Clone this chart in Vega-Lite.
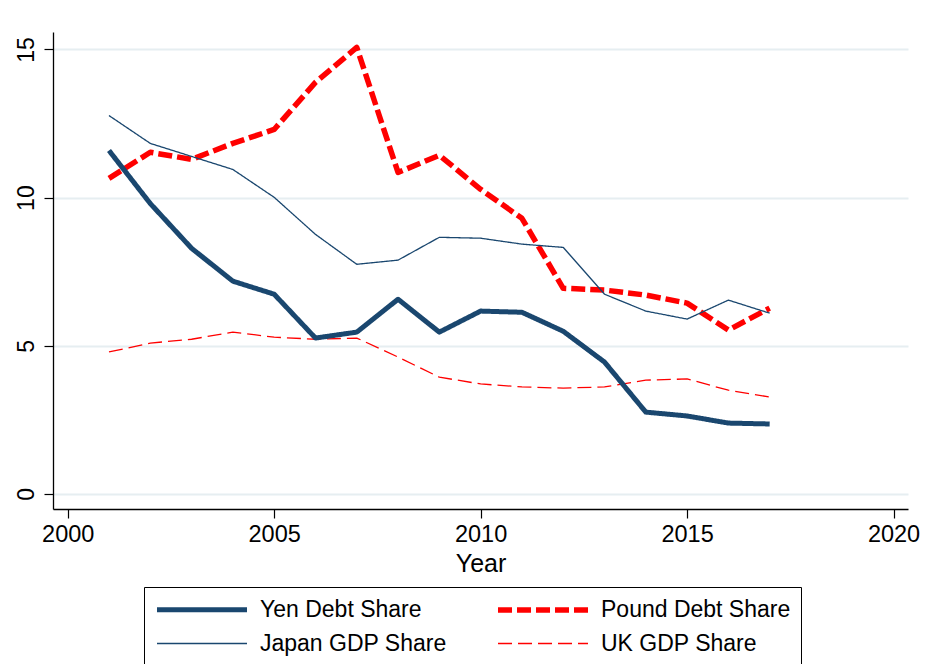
{
  "$schema": "https://vega.github.io/schema/vega-lite/v6.json",
  "autosize": {"type": "none"},
  "padding": {"left": 53, "top": 32, "right": 17, "bottom": 155},
  "width": 855,
  "height": 477,
  "background": "white",
  "config": {
    "view": {"stroke": null},
    "font": "Liberation Sans",
    "legend": {
      "title": null,
      "orient": "none",
      "legendX": 91,
      "legendY": 555,
      "direction": "horizontal",
      "columns": 2,
      "columnPadding": 40,
      "rowPadding": 10,
      "padding": 10,
      "strokeColor": "black",
      "fillColor": "white",
      "symbolType": "M-1,0H8",
      "symbolSize": 400,
      "labelFontSize": 23,
      "labelFont": "Liberation Sans",
      "labelColor": "black",
      "labelOffset": 80,
      "labelLimit": 400
    }
  },
  "data": {
    "values": [
      {"year": 2001, "series": "Pound Debt Share", "value": 10.65},
      {"year": 2002, "series": "Pound Debt Share", "value": 11.53},
      {"year": 2003, "series": "Pound Debt Share", "value": 11.29},
      {"year": 2004, "series": "Pound Debt Share", "value": 11.83},
      {"year": 2005, "series": "Pound Debt Share", "value": 12.3},
      {"year": 2006, "series": "Pound Debt Share", "value": 13.89},
      {"year": 2007, "series": "Pound Debt Share", "value": 15.07},
      {"year": 2008, "series": "Pound Debt Share", "value": 10.85},
      {"year": 2009, "series": "Pound Debt Share", "value": 11.43},
      {"year": 2010, "series": "Pound Debt Share", "value": 10.28},
      {"year": 2011, "series": "Pound Debt Share", "value": 9.3},
      {"year": 2012, "series": "Pound Debt Share", "value": 6.94},
      {"year": 2013, "series": "Pound Debt Share", "value": 6.88},
      {"year": 2014, "series": "Pound Debt Share", "value": 6.71},
      {"year": 2015, "series": "Pound Debt Share", "value": 6.44},
      {"year": 2016, "series": "Pound Debt Share", "value": 5.53},
      {"year": 2017, "series": "Pound Debt Share", "value": 6.27},
      {"year": 2001, "series": "UK GDP Share", "value": 4.79},
      {"year": 2002, "series": "UK GDP Share", "value": 5.09},
      {"year": 2003, "series": "UK GDP Share", "value": 5.22},
      {"year": 2004, "series": "UK GDP Share", "value": 5.46},
      {"year": 2005, "series": "UK GDP Share", "value": 5.29},
      {"year": 2006, "series": "UK GDP Share", "value": 5.22},
      {"year": 2007, "series": "UK GDP Share", "value": 5.26},
      {"year": 2008, "series": "UK GDP Share", "value": 4.62},
      {"year": 2009, "series": "UK GDP Share", "value": 3.94},
      {"year": 2010, "series": "UK GDP Share", "value": 3.71},
      {"year": 2011, "series": "UK GDP Share", "value": 3.61},
      {"year": 2012, "series": "UK GDP Share", "value": 3.57},
      {"year": 2013, "series": "UK GDP Share", "value": 3.61},
      {"year": 2014, "series": "UK GDP Share", "value": 3.84},
      {"year": 2015, "series": "UK GDP Share", "value": 3.88},
      {"year": 2016, "series": "UK GDP Share", "value": 3.5},
      {"year": 2017, "series": "UK GDP Share", "value": 3.27},
      {"year": 2001, "series": "Japan GDP Share", "value": 12.77},
      {"year": 2002, "series": "Japan GDP Share", "value": 11.83},
      {"year": 2003, "series": "Japan GDP Share", "value": 11.39},
      {"year": 2004, "series": "Japan GDP Share", "value": 10.95},
      {"year": 2005, "series": "Japan GDP Share", "value": 10.01},
      {"year": 2006, "series": "Japan GDP Share", "value": 8.76},
      {"year": 2007, "series": "Japan GDP Share", "value": 7.75},
      {"year": 2008, "series": "Japan GDP Share", "value": 7.89},
      {"year": 2009, "series": "Japan GDP Share", "value": 8.66},
      {"year": 2010, "series": "Japan GDP Share", "value": 8.63},
      {"year": 2011, "series": "Japan GDP Share", "value": 8.43},
      {"year": 2012, "series": "Japan GDP Share", "value": 8.32},
      {"year": 2013, "series": "Japan GDP Share", "value": 6.74},
      {"year": 2014, "series": "Japan GDP Share", "value": 6.17},
      {"year": 2015, "series": "Japan GDP Share", "value": 5.9},
      {"year": 2016, "series": "Japan GDP Share", "value": 6.54},
      {"year": 2017, "series": "Japan GDP Share", "value": 6.1},
      {"year": 2001, "series": "Yen Debt Share", "value": 11.59},
      {"year": 2002, "series": "Yen Debt Share", "value": 9.8},
      {"year": 2003, "series": "Yen Debt Share", "value": 8.29},
      {"year": 2004, "series": "Yen Debt Share", "value": 7.18},
      {"year": 2005, "series": "Yen Debt Share", "value": 6.74},
      {"year": 2006, "series": "Yen Debt Share", "value": 5.26},
      {"year": 2007, "series": "Yen Debt Share", "value": 5.46},
      {"year": 2008, "series": "Yen Debt Share", "value": 6.57},
      {"year": 2009, "series": "Yen Debt Share", "value": 5.46},
      {"year": 2010, "series": "Yen Debt Share", "value": 6.17},
      {"year": 2011, "series": "Yen Debt Share", "value": 6.13},
      {"year": 2012, "series": "Yen Debt Share", "value": 5.49},
      {"year": 2013, "series": "Yen Debt Share", "value": 4.45},
      {"year": 2014, "series": "Yen Debt Share", "value": 2.76},
      {"year": 2015, "series": "Yen Debt Share", "value": 2.63},
      {"year": 2016, "series": "Yen Debt Share", "value": 2.39},
      {"year": 2017, "series": "Yen Debt Share", "value": 2.36}
    ]
  },
  "mark": {"type": "line", "strokeCap": "butt", "strokeJoin": "round"},
  "encoding": {
    "x": {
      "field": "year",
      "type": "quantitative",
      "scale": {"domain": [1999.644, 2020.35], "nice": false, "zero": false},
      "axis": {
        "title": "Year",
        "values": [2000, 2005, 2010, 2015, 2020],
        "format": "d",
        "grid": false,
        "domainColor": "black",
        "domainWidth": 1.3,
        "tickColor": "black",
        "tickSize": 9,
        "tickWidth": 1.2,
        "labelFontSize": 23.5,
        "labelColor": "black",
        "labelPadding": 4,
        "labelFont": "Liberation Sans",
        "titleFont": "Liberation Sans",
        "titleFontSize": 25,
        "titleFontWeight": "normal",
        "titleColor": "black",
        "titlePadding": 6
      }
    },
    "y": {
      "field": "value",
      "type": "quantitative",
      "scale": {"domain": [-0.51, 15.59], "nice": false, "zero": false},
      "axis": {
        "title": null,
        "values": [0, 5, 10, 15],
        "grid": true,
        "gridColor": "#e6eef1",
        "gridWidth": 2,
        "domainColor": "black",
        "domainWidth": 1.3,
        "tickColor": "black",
        "tickSize": 9,
        "tickWidth": 1.2,
        "labelFontSize": 23,
        "labelColor": "black",
        "labelAngle": -90,
        "labelAlign": "center",
        "labelBaseline": "bottom",
        "labelPadding": 6,
        "labelFont": "Liberation Sans"
      }
    },
    "color": {
      "field": "series",
      "type": "nominal",
      "scale": {
        "domain": ["Yen Debt Share", "Pound Debt Share", "Japan GDP Share", "UK GDP Share"],
        "range": ["#1a476f", "#ff0000", "#1a476f", "#ff0000"]
      },
      "legend": {"title": null}
    },
    "strokeDash": {
      "field": "series",
      "type": "nominal",
      "scale": {
        "domain": ["Yen Debt Share", "Pound Debt Share", "Japan GDP Share", "UK GDP Share"],
        "range": [[1, 0], [14, 5], [1, 0], [14, 6]]
      },
      "legend": {"title": null}
    },
    "strokeWidth": {
      "field": "series",
      "type": "nominal",
      "scale": {
        "type": "ordinal",
        "domain": ["Yen Debt Share", "Pound Debt Share", "Japan GDP Share", "UK GDP Share"],
        "range": [5, 5.5, 1.3, 1.3]
      },
      "legend": {"title": null}
    }
  }
}
